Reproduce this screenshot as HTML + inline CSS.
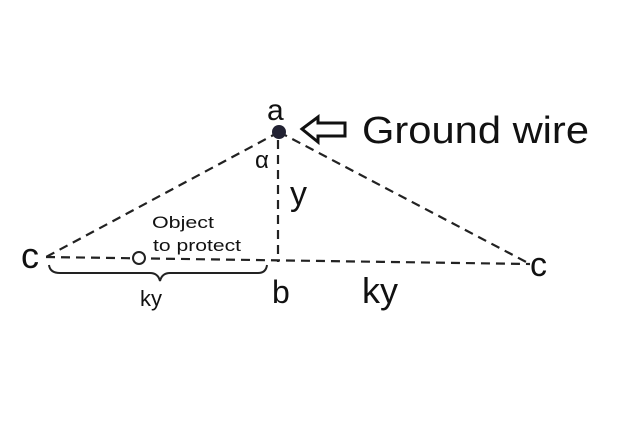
<!DOCTYPE html>
<html><head><style>body{margin:0;background:#fff}svg{display:block}</style></head><body>
<svg width="630" height="440" viewBox="0 0 630 440" font-family="Liberation Sans, sans-serif" fill="#111">
<g stroke="#222" stroke-width="2.2" stroke-dasharray="9,6" fill="none">
<line x1="279" y1="132" x2="46" y2="257"/>
<line x1="279" y1="132" x2="530" y2="264"/>
<line x1="278" y1="140" x2="278" y2="262"/>
<line x1="46" y1="257" x2="530" y2="264"/>
</g>
<circle cx="279" cy="132" r="7" fill="#223"/>
<circle cx="139" cy="258" r="6" fill="#fff" stroke="#222" stroke-width="2"/>
<path d="M49 265 Q50 273 60 273 L150 273 Q158 273 160 281 Q162 273 170 273 L258 273 Q266 273 267 265" fill="none" stroke="#222" stroke-width="2"/>
<path d="M302 129 L318 117 L318 123 L345 123 L345 136 L318 136 L318 142 Z" fill="none" stroke="#111" stroke-width="3"/>
<text x="267" y="120" font-size="30">a</text>
<text x="362" y="143" font-size="38" textLength="227" lengthAdjust="spacingAndGlyphs">Ground wire</text>
<text x="255" y="168" font-size="24">α</text>
<text x="290" y="205" font-size="34">y</text>
<text x="21" y="268" font-size="36">c</text>
<text x="530" y="276" font-size="34">c</text>
<text x="152" y="228" font-size="17" textLength="62" lengthAdjust="spacingAndGlyphs">Object</text>
<text x="153" y="251" font-size="17" textLength="88" lengthAdjust="spacingAndGlyphs">to protect</text>
<text x="140" y="306" font-size="22">ky</text>
<text x="272" y="303" font-size="32">b</text>
<text x="362" y="303" font-size="36">ky</text>
</svg>
</body></html>
